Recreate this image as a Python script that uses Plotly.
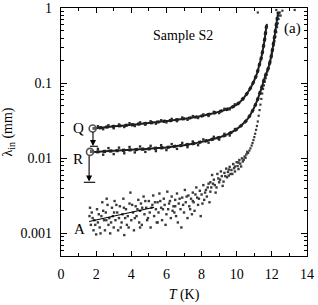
import math
import plotly.graph_objects as go

# ---------------- data ----------------
Q_T = [1.8,2.0,2.5,3.0,3.5,4.0,4.5,5.0,5.5,6.0,6.5,7.0,7.5,8.0,8.5,9.0,9.5,9.8,10.0,10.2,10.4,10.6,10.8,11.0,11.15,11.3,11.4,11.5,11.6,11.68,11.72]
Q_L = [0.025,0.0252,0.026,0.0267,0.0273,0.028,0.0288,0.0296,0.0305,0.0315,0.0325,0.0337,0.035,0.0367,0.039,0.042,0.0455,0.049,0.052,0.057,0.064,0.074,0.088,0.11,0.135,0.18,0.22,0.29,0.4,0.55,0.62]

R_T = [1.65,2.0,2.5,3.0,3.5,4.0,4.5,5.0,5.5,6.0,6.5,7.0,7.5,8.0,8.5,9.0,9.5,10.0,10.3,10.6,10.8,11.0,11.2,11.4,11.6,11.8,11.95,12.1,12.2,12.3,12.37]
R_L = [0.0124,0.0122,0.0124,0.0126,0.0128,0.013,0.0132,0.0134,0.0137,0.014,0.0145,0.015,0.0157,0.0166,0.0177,0.019,0.021,0.0245,0.028,0.033,0.039,0.048,0.062,0.085,0.12,0.16,0.22,0.35,0.5,0.72,0.9]

J_T = [2.1,2.4,2.7,3.0,3.3,3.6,3.9,4.2,4.5,4.8,5.1,5.4,5.7,6.0,6.3,6.6,6.9,7.2,7.5,7.8,8.1,8.4,8.7,9.0,9.3,9.6,9.9]
QJ_L = [0.0268,0.0245,0.0276,0.0252,0.0283,0.0262,0.0294,0.0270,0.0302,0.0281,0.0312,0.0290,0.0322,0.0302,0.0336,0.0313,0.0350,0.0327,0.0366,0.0345,0.0385,0.0368,0.0417,0.0402,0.0458,0.0452,0.0525]
RJ_L = [0.0134,0.0112,0.0137,0.0114,0.0139,0.0117,0.0142,0.0120,0.0144,0.0122,0.0147,0.0125,0.0150,0.0129,0.0155,0.0134,0.0161,0.0141,0.0168,0.0150,0.0179,0.0162,0.0194,0.0178,0.0212,0.0202,0.0246]

A_T = [1.62,1.7,1.75,1.85,1.9,2.0,2.05,2.1,2.2,2.3,2.35,2.45,
       2.5,2.55,2.6,2.7,2.75,2.8,2.9,2.95,3.0,3.05,3.1,3.2,3.25,3.35,3.45,
       3.5,3.55,3.6,3.7,3.75,3.8,3.9,3.95,4.0,4.1,4.15,4.25,4.3,4.4,4.45,
       4.5,4.55,4.6,4.7,4.75,4.85,4.9,5.0,5.05,5.1,5.2,5.25,5.3,5.4,5.45,
       5.5,5.55,5.6,5.7,5.75,5.85,5.9,6.0,6.05,6.1,6.2,6.25,6.3,6.4,6.45,
       6.5,6.55,6.6,6.7,6.8,6.85,6.9,7.0,7.05,7.1,7.2,7.25,7.3,7.4,7.45,
       7.5,7.55,7.6,7.7,7.75,7.8,7.9,7.95,8.0,8.1,8.15,8.25,8.3,8.4,8.45,
       8.5,8.55,8.6,8.7,8.75,8.8,8.9,8.95,9.0,9.1,9.15,9.2,9.3,9.4,9.45,
       9.5,9.55,9.6,9.7,9.75,9.8,9.85,9.9,10.0,10.05,10.1,10.15,10.2,10.3,10.35,10.45,10.55,10.6,
       1.65,1.8,1.95,2.15,2.25,2.4,2.58,2.65,2.85,3.02,3.15,3.3,3.4,3.58,3.65,3.85,4.05,4.2,4.35,4.5,
       4.62,4.8,4.95,5.15,5.35,5.5,5.65,5.8,5.95,6.15,6.35,6.5,6.65,6.75,6.95,7.15,7.35,7.5,7.65,7.85,
       8.05,8.2,8.35,8.5,8.65,8.85,9.05,9.25,9.35,9.55,9.65,9.9,10.1,10.25,10.4,10.5]
A_L = [0.0017,0.0013,0.0019,0.0011,0.0015,0.00097,0.0021,0.0014,0.0012,0.0017,0.0026,0.0015,
       0.0011,0.0019,0.0029,0.0013,0.0016,0.0010,0.0022,0.0017,0.0012,0.0027,0.0015,0.0019,0.0011,0.0023,0.0014,
       0.0018,0.0029,0.00095,0.0021,0.0013,0.0017,0.0025,0.0035,0.0015,0.0019,0.0011,0.0023,0.0017,0.0028,0.0014,
       0.0020,0.0025,0.0013,0.0031,0.0018,0.0022,0.0015,0.0027,0.0019,0.0012,0.0024,0.0032,0.0017,0.0021,0.0014,
       0.0026,0.0019,0.0034,0.0022,0.0015,0.0029,0.0024,0.0018,0.0036,0.0021,0.0027,0.0016,0.0031,0.0023,0.0019,
       0.0028,0.0017,0.0034,0.0025,0.0021,0.0012,0.0030,0.0019,0.0038,0.0026,0.0016,0.0032,0.0023,0.0029,0.0018,
       0.0035,0.0026,0.0020,0.0041,0.0030,0.0024,0.0037,0.0017,0.0033,0.0044,0.0028,0.0038,0.0031,0.0046,0.0026,
       0.0048,0.0041,0.0060,0.0052,0.0044,0.0035,0.0062,0.0054,0.0048,0.0067,0.0058,0.0043,0.0064,0.0073,0.0056,
       0.0066,0.0059,0.0077,0.0070,0.0062,0.0084,0.0074,0.0067,0.0089,0.0079,0.0072,0.0095,0.0085,0.0100,0.0091,0.0106,0.0113,0.0122,
       0.0022,0.0016,0.0013,0.0018,0.0010,0.0020,0.0015,0.0024,0.0014,0.0019,0.0024,0.0016,0.0012,0.0022,0.0016,0.0012,0.0024,0.0016,0.0021,0.0012,
       0.0022,0.0027,0.0016,0.0022,0.0026,0.0014,0.0027,0.0021,0.0013,0.0025,0.0020,0.0023,0.0014,0.0029,0.0024,0.0031,0.0021,0.0027,0.0033,0.0029,
       0.0025,0.0035,0.0041,0.0036,0.0046,0.0041,0.0052,0.0049,0.0058,0.0071,0.0062,0.0078,0.0088,0.0078,0.0096,0.0102]

AD_T = [10.65,10.72,10.78,10.85,10.9,10.95,11.0,11.05,11.1,11.15,11.2,11.25,11.3,11.35,11.4,11.45,11.5,11.55,11.6,11.65,
        11.7,11.75,11.8,11.85,11.9,11.95,12.0,12.05,12.1,12.15,12.2,12.25,12.3,12.34,12.38,12.42,12.45]
AD_L = [0.0118,0.0127,0.0136,0.0148,0.016,0.0175,0.0192,0.0213,0.024,0.027,0.031,0.037,0.044,0.052,0.062,0.073,0.084,0.094,0.105,0.117,
        0.13,0.145,0.16,0.178,0.2,0.223,0.25,0.283,0.32,0.365,0.42,0.48,0.56,0.63,0.72,0.8,0.88]

ST_T = [11.2,12.25,12.6,12.5,13.3]
ST_L = [0.88,0.95,0.93,0.8,0.95]

FIT_T = [1.6,5.3]
FIT_L = [0.00144,0.00223]

CIRC_T = [1.8,1.65]
CIRC_L = [0.025,0.0122]

# arrows: (x, from, to) and end bars (x-range, y)
Q_ARROW = (1.82, 0.0236, 0.0146)
Q_BAR = ([1.65, 2.1], 0.0145)
R_ARROW = (1.6, 0.0113, 0.0049)
R_BAR = ([1.3, 1.95], 0.0048)

X_TICKS = [0,2,4,6,8,10,12,14]
Y_TICKS = [0.001,0.01,0.1,1]
Y_TICKTEXT = ["0.001","0.01","0.1","1"]

FONT = "Liberation Serif"
INK = "#1e1e1e"

fig = go.Figure()

fig.add_trace(go.Scatter(x=A_T, y=A_L, mode="markers",
                         marker=dict(size=2.4, color="#3a3a3a", symbol="square"), showlegend=False))
fig.add_trace(go.Scatter(x=FIT_T, y=FIT_L, mode="lines",
                         line=dict(color="black", width=1.2), showlegend=False))
fig.add_trace(go.Scatter(x=AD_T, y=AD_L, mode="markers",
                         marker=dict(size=2.2, color="#3a3a3a", symbol="square"), showlegend=False))
fig.add_trace(go.Scatter(x=ST_T, y=ST_L, mode="markers",
                         marker=dict(size=2.2, color="#3a3a3a", symbol="square"), showlegend=False))
for T, L in ((Q_T, Q_L), (R_T, R_L)):
    fig.add_trace(go.Scatter(x=T, y=L, mode="lines",
                             line=dict(color=INK, width=3.2, shape="spline", dash="dot"), showlegend=False))
    fig.add_trace(go.Scatter(x=T, y=L, mode="lines",
                             line=dict(color=INK, width=2.0, shape="spline"), showlegend=False))
for L in (QJ_L, RJ_L):
    fig.add_trace(go.Scatter(x=J_T, y=L, mode="markers",
                             marker=dict(size=2.4, color="#2a2a2a", symbol="square"), showlegend=False))
fig.add_trace(go.Scatter(x=CIRC_T, y=CIRC_L, mode="markers",
                         marker=dict(size=7, color="rgba(255,255,255,0.3)", symbol="circle",
                                     line=dict(color="#555", width=1.6)), showlegend=False))
for xs, yv in (Q_BAR, R_BAR):
    fig.add_trace(go.Scatter(x=xs, y=[yv, yv], mode="lines",
                             line=dict(color="black", width=1.1), showlegend=False))

annotations = []
for xa, y0, y1 in (Q_ARROW, R_ARROW):
    annotations.append(dict(x=xa, y=math.log10(y1), ax=xa, ay=math.log10(y0),
                            xref="x", yref="y", axref="x", ayref="y",
                            text="", showarrow=True, arrowhead=2, arrowsize=1.1,
                            arrowwidth=1.1, arrowcolor="black"))

def label(txt, x, yv, size=14):
    annotations.append(dict(x=x, y=math.log10(yv), xref="x", yref="y", text=txt,
                            showarrow=False, font=dict(family=FONT, size=size, color="black")))

label("Q", 1.02, 0.0256, 15)
label("R", 0.96, 0.0097, 15)
label("A", 1.08, 0.00116, 15)
label("Sample S2", 6.95, 0.44, 14)
label("(a)", 13.2, 0.53, 15)

axis_common = dict(showline=True, linecolor="black", linewidth=1.3, mirror="ticks",
                   ticks="inside", tickcolor="black", tickwidth=1, showgrid=False,
                   zeroline=False, automargin=False,
                   tickfont=dict(family=FONT, size=14, color="black"))

fig.update_layout(
    width=318, height=305,
    margin=dict(l=61, r=11, t=8, b=49),
    paper_bgcolor="white", plot_bgcolor="white",
    font=dict(family=FONT, size=14, color="black"),
    annotations=annotations,
    xaxis=dict(range=[0, 14], tickvals=X_TICKS, ticklen=5,
               minor=dict(dtick=1, ticks="inside", ticklen=3, tickcolor="black", showgrid=False),
               title=dict(text="<i>T</i> (K)", font=dict(family=FONT, size=14, color="black"), standoff=8),
               ticklabelstandoff=5, **axis_common),
    yaxis=dict(type="log", range=[math.log10(0.0005), 0.004], tickvals=Y_TICKS, ticktext=Y_TICKTEXT,
               ticklen=6, ticklabeloverflow="allow",
               minor=dict(dtick="D1", ticks="inside", ticklen=3, tickcolor="black", showgrid=False),
               title=dict(text="λ<sub>in</sub> (mm)", font=dict(family=FONT, size=14, color="black"), standoff=4),
               ticklabelstandoff=5, **axis_common),
)

fig.write_html("out.html", config={"displayModeBar": False},
               post_script="document.body.style.margin='0';document.body.style.overflow='hidden';")
